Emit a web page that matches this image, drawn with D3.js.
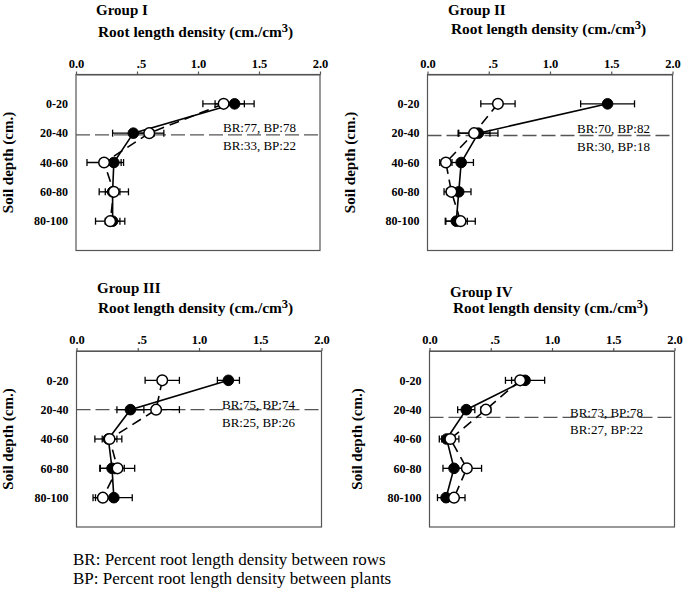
<!DOCTYPE html>
<html>
<head>
<meta charset="utf-8">
<script src="https://cdn.jsdelivr.net/npm/d3@7"></script>
<style>
  html, body { margin: 0; padding: 0; background: #fff; }
  svg { display: block; font-family: "Liberation Serif", "Times New Roman", serif; }
</style>
</head>
<body>
<svg id="chart" width="685" height="592"></svg>
<script>
// ---------- DATA ----------
const depthLabels = ["0-20", "20-40", "40-60", "60-80", "80-100"];
const xTickValues = [0, 0.5, 1, 1.5, 2];
const xTickLabels = ["0.0", ".5", "1.0", "1.5", "2.0"];
const groupNames = ["Group I", "Group II", "Group III", "Group IV"];

// filled circles (solid line) and open circles (dashed line): mean and error
const g1Filled    = [1.30, 0.47, 0.31, 0.30, 0.30];
const g1FilledErr = [0.16, 0.17, 0.08, 0.06, 0.06];
const g1Open      = [1.21, 0.60, 0.23, 0.31, 0.28];
const g1OpenErr   = [0.17, 0.12, 0.14, 0.12, 0.12];

const g2Filled    = [1.47, 0.415, 0.275, 0.255, 0.235];
const g2FilledErr = [0.22, 0.16, 0.10, 0.10, 0.09];
const g2Open      = [0.575, 0.38, 0.15, 0.195, 0.27];
const g2OpenErr   = [0.14, 0.13, 0.05, 0.06, 0.12];

const g3Filled    = [1.24, 0.44, 0.26, 0.29, 0.305];
const g3FilledErr = [0.09, 0.11, 0.11, 0.10, 0.15];
const g3Open      = [0.70, 0.65, 0.27, 0.335, 0.215];
const g3OpenErr   = [0.14, 0.19, 0.06, 0.14, 0.08];

const g4Filled    = [0.78, 0.30, 0.14, 0.20, 0.135];
const g4FilledErr = [0.16, 0.07, 0.06, 0.09, 0.07];
const g4Open      = [0.74, 0.46, 0.17, 0.305, 0.20];
const g4OpenErr   = [0.07, 0.04, 0.07, 0.12, 0.09];

// separator position (in depth-row units, rows at 1..5) and percentage notes
const separatorDepth = [2.06, 2.08, 2.0, 2.26];
const notesAbove = ["BR:77, BP:78", "BR:70, BP:82", "BR:75, BP:74", "BR:73, BP:78"];
const notesBelow = ["BR:33, BP:22", "BR:30, BP:18", "BR:25, BP:26", "BR:27, BP:22"];

const footnotes = [
  "BR: Percent root length density between rows",
  "BP: Percent root length density between plants"
];

const groupsData = [
  { filled: g1Filled, filledErr: g1FilledErr, open: g1Open, openErr: g1OpenErr },
  { filled: g2Filled, filledErr: g2FilledErr, open: g2Open, openErr: g2OpenErr },
  { filled: g3Filled, filledErr: g3FilledErr, open: g3Open, openErr: g3OpenErr },
  { filled: g4Filled, filledErr: g4FilledErr, open: g4Open, openErr: g4OpenErr }
];

// ---------- LAYOUT ----------
const layout = [
  { left: 76,    right: 320,   top: 74.5, bottom: 250.5, titleX: 96,  titleY: 15,  subX: 98,  subY: 37,  annX: 223, ann1: -3,   ann2: 15.5, ylabX: 13 },
  { left: 427.5, right: 672.5, top: 74.5, bottom: 250.5, titleX: 448, titleY: 15,  subX: 451, subY: 34,  annX: 577, ann1: -3,   ann2: 15,   ylabX: 355 },
  { left: 76.5,  right: 321.5, top: 351,  bottom: 527,   titleX: 97,  titleY: 293, subX: 98,  subY: 313, annX: 222, ann1: -0.5, ann2: 17,   ylabX: 13 },
  { left: 429.5, right: 674.5, top: 351,  bottom: 527,   titleX: 450, titleY: 297, subX: 453, subY: 313, annX: 570, ann1: 0,    ann2: 17,   ylabX: 362 }
];

const svg = d3.select("#chart");

groupsData.forEach((gd, gi) => {
  const L = layout[gi];
  const x = d3.scaleLinear().domain([0, 2]).range([L.left, L.right]);
  const y = d3.scaleLinear().domain([0, 6]).range([L.top, L.bottom]);
  const g = svg.append("g");

  // titles
  g.append("text").attr("x", L.titleX).attr("y", L.titleY)
    .attr("font-size", 15).attr("font-weight", "bold").text(groupNames[gi]);
  const st = g.append("text").attr("x", L.subX).attr("y", L.subY)
    .attr("font-size", 15.4).attr("font-weight", "bold");
  st.append("tspan").text("Root length density (cm./cm");
  st.append("tspan").attr("dy", -5).attr("font-size", 12.5).text("3");
  st.append("tspan").attr("dy", 5).text(")");

  // plot box
  g.append("rect").attr("x", L.left).attr("y", L.top)
    .attr("width", L.right - L.left).attr("height", L.bottom - L.top)
    .attr("fill", "none").attr("stroke", "#555").attr("stroke-width", 1.2);

  // top axis
  const ax = g.append("g").attr("transform", `translate(0,${L.top})`)
    .call(d3.axisTop(x).tickValues(xTickValues)
      .tickFormat((d, i) => xTickLabels[i]).tickSize(3).tickPadding(4).tickSizeOuter(0));
  ax.select(".domain").attr("stroke", "#555").attr("stroke-width", 1.2);
  ax.selectAll(".tick line").attr("stroke", "#555").attr("stroke-width", 1.2);
  ax.selectAll(".tick text")
    .attr("font-family", "Liberation Serif, serif").attr("font-size", 12.5)
    .attr("font-weight", "bold").attr("fill", "#000")
    .attr("dx", (d, i) => xTickLabels[i].startsWith(".") ? 4 : 0);

  // depth labels
  g.selectAll("text.depth").data(depthLabels).join("text")
    .attr("class", "depth")
    .attr("x", L.left - 8).attr("y", (d, i) => y(i + 1)).attr("dy", "0.35em")
    .attr("text-anchor", "end").attr("font-size", 12).attr("font-weight", "bold")
    .text(d => d);

  // y-axis title
  g.append("text")
    .attr("transform", `translate(${L.ylabX},${(L.top + L.bottom) / 2}) rotate(-90)`)
    .attr("text-anchor", "middle").attr("font-size", 15).attr("font-weight", "bold")
    .text("Soil depth (cm.)");

  // separator
  const sy = y(separatorDepth[gi]);
  g.append("line").attr("x1", L.left).attr("x2", L.right).attr("y1", sy).attr("y2", sy)
    .attr("stroke", "#555").attr("stroke-width", 1.3).attr("stroke-dasharray", "14,5");
  g.append("text").attr("x", L.annX).attr("y", sy + L.ann1).attr("font-size", 13).text(notesAbove[gi]);
  g.append("text").attr("x", L.annX).attr("y", sy + L.ann2).attr("font-size", 13).text(notesBelow[gi]);

  const mk = (vals, errs) => vals.map((v, i) => ({ v, e: errs[i], d: i + 1 }));
  const filled = mk(gd.filled, gd.filledErr);
  const open = mk(gd.open, gd.openErr);

  const line = d3.line().x(p => x(p.v)).y(p => y(p.d));
  g.append("path").datum(filled).attr("d", line)
    .attr("fill", "none").attr("stroke", "#000").attr("stroke-width", 1.6);
  g.append("path").datum(open).attr("d", line)
    .attr("fill", "none").attr("stroke", "#000").attr("stroke-width", 1.6)
    .attr("stroke-dasharray", "10,6");

  const drawErr = (pts) => {
    const eg = g.append("g").attr("stroke", "#000").attr("stroke-width", 1.3);
    pts.forEach(p => {
      const x1 = x(p.v - p.e), x2 = x(p.v + p.e), yy = y(p.d);
      eg.append("line").attr("x1", x1).attr("x2", x2).attr("y1", yy).attr("y2", yy);
      eg.append("line").attr("x1", x1).attr("x2", x1).attr("y1", yy - 3.5).attr("y2", yy + 3.5);
      eg.append("line").attr("x1", x2).attr("x2", x2).attr("y1", yy - 3.5).attr("y2", yy + 3.5);
    });
  };
  drawErr(filled);
  drawErr(open);

  g.selectAll("circle.f").data(filled).join("circle").attr("class", "f")
    .attr("cx", p => x(p.v)).attr("cy", p => y(p.d)).attr("r", 5.3)
    .attr("fill", "#000").attr("stroke", "#000").attr("stroke-width", 1);
  g.selectAll("circle.o").data(open).join("circle").attr("class", "o")
    .attr("cx", p => x(p.v)).attr("cy", p => y(p.d)).attr("r", 5.3)
    .attr("fill", "#fff").attr("stroke", "#000").attr("stroke-width", 1.5);
});

// footnotes
svg.selectAll("text.foot").data(footnotes).join("text").attr("class", "foot")
  .attr("x", 73).attr("y", (d, i) => 565 + i * 19)
  .attr("font-size", 17).text(d => d);
</script>
</body>
</html>
